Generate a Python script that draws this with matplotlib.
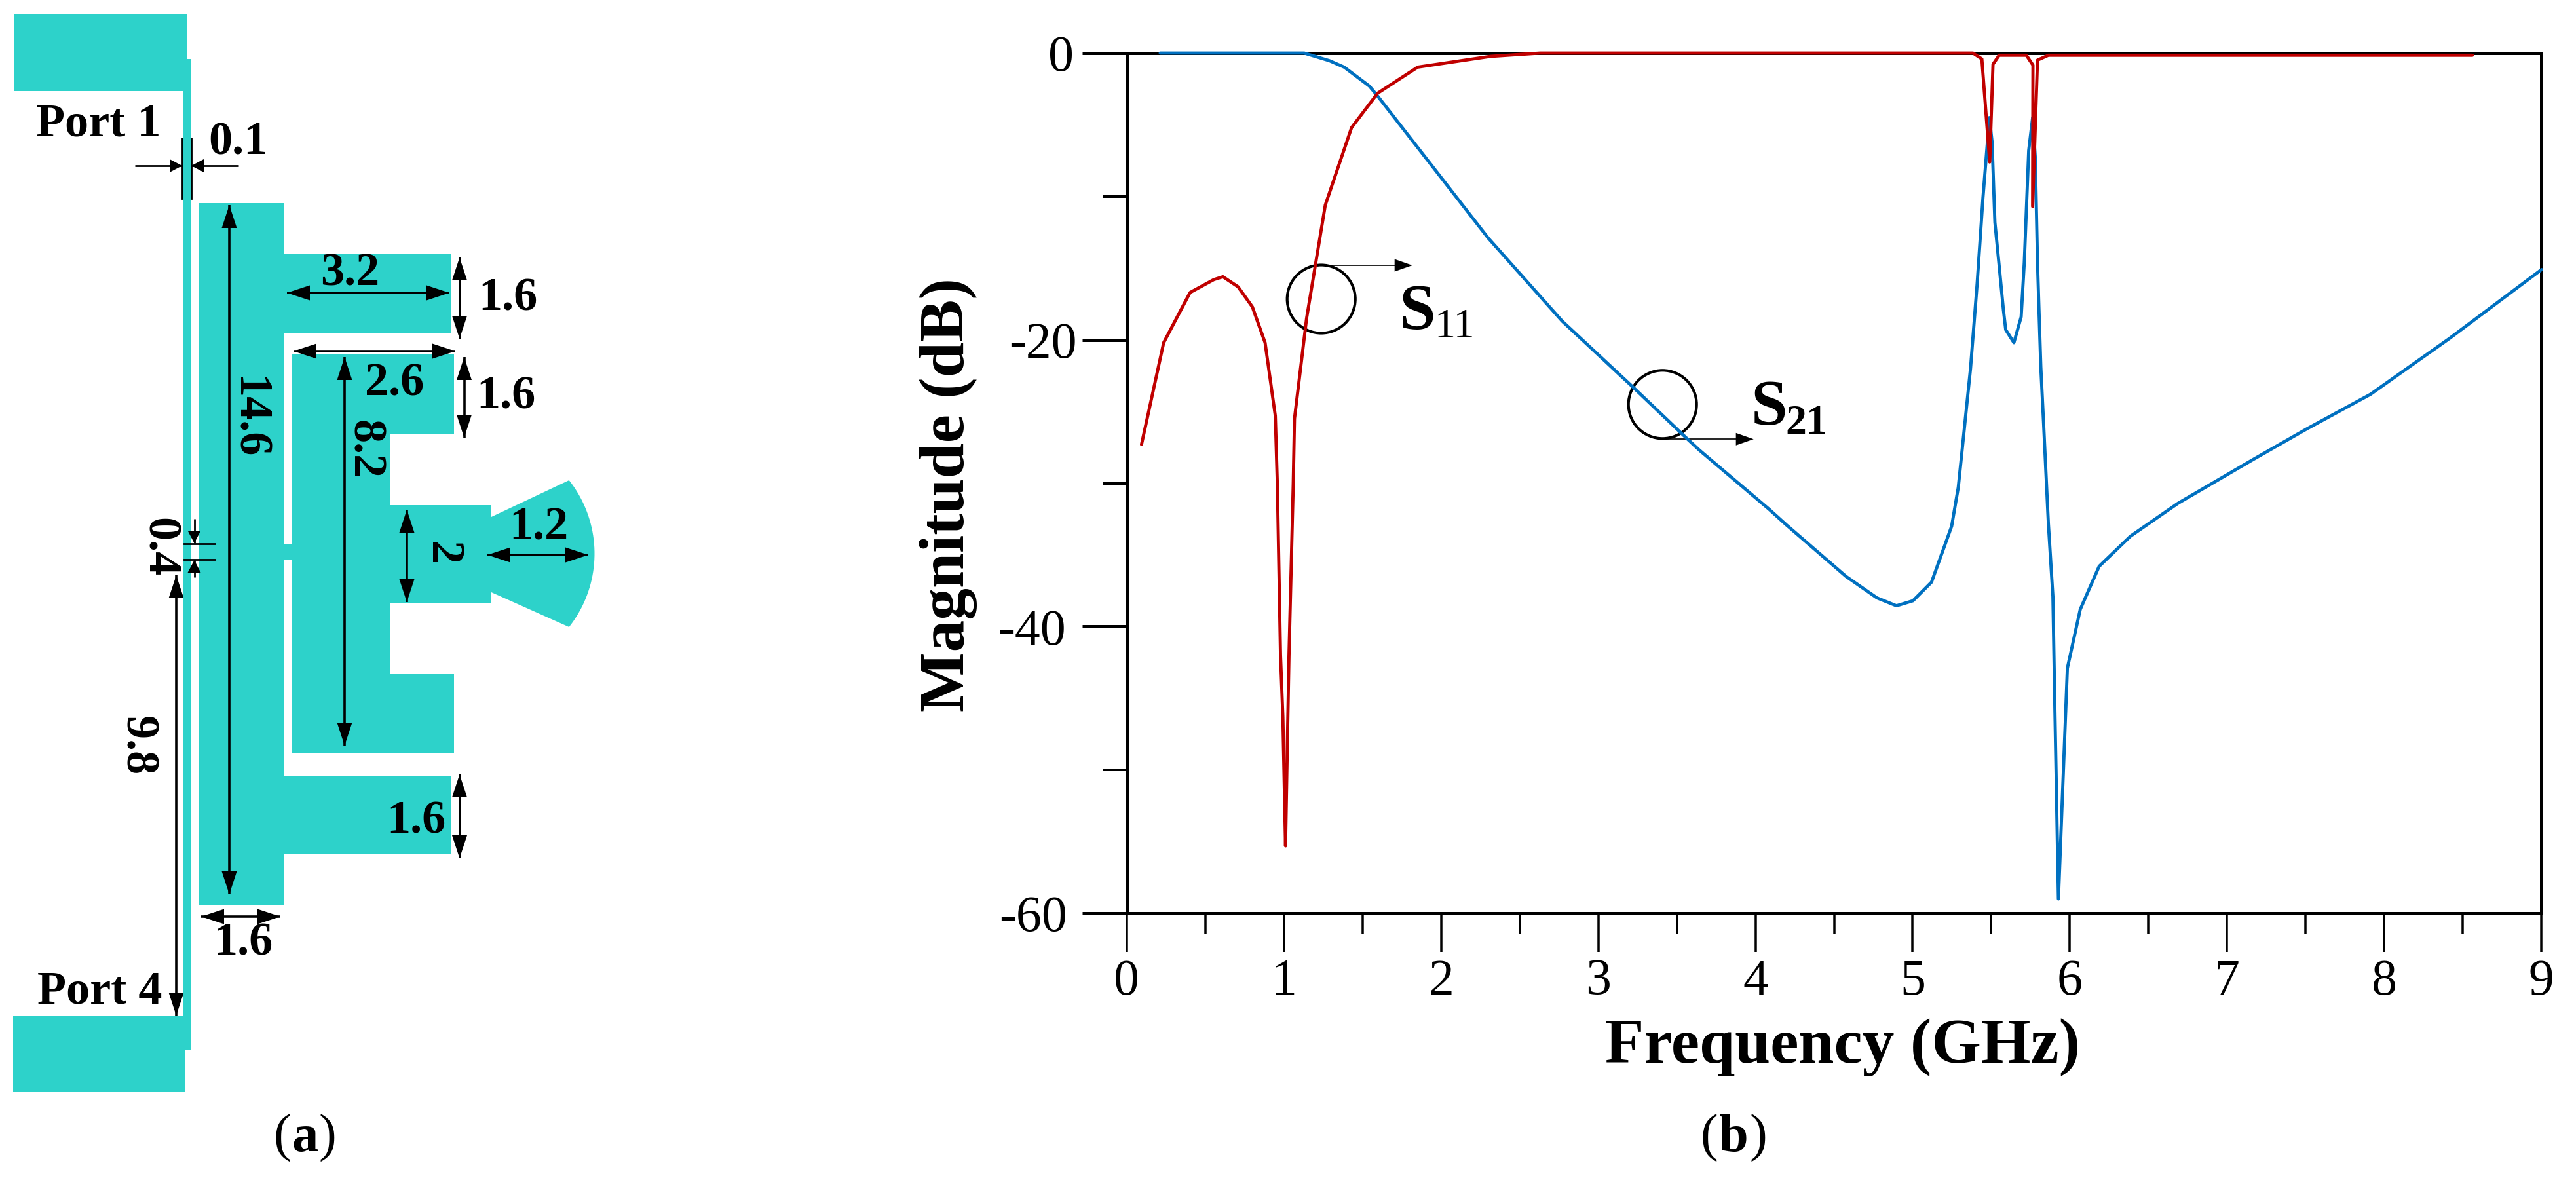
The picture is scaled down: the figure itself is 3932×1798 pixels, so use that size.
import numpy as np
import matplotlib
matplotlib.use("Agg")
import matplotlib.pyplot as plt
from matplotlib.patches import Rectangle, Polygon, Circle

plt.rcParams['font.family'] = ['Liberation Serif', 'DejaVu Serif']

W, H = 3932, 1798
TEAL = '#2DD2CA'
BLUE = '#0070C0'
RED = '#C00000'
PX = 0.72  # points per pixel at dpi 100

# S11 / S21
s11_f = [0.095, 0.236, 0.404, 0.555, 0.613, 0.709, 0.80, 0.881, 0.946, 0.959, 0.979, 0.994, 1.011,
         1.02, 1.033, 1.06, 1.068, 1.145, 1.264, 1.431, 1.597, 1.852, 2.314, 2.63, 5.384, 5.44,
         5.49, 5.511, 5.55, 5.723, 5.765, 5.763, 5.794, 5.863, 8.56]
s11_db = [-27.3, -20.2, -16.7, -15.8, -15.6, -16.3, -17.7, -20.2, -25.3, -30.1, -42.0, -46.3, -55.3,
          -49.8, -42.0, -30.1, -25.5, -18.5, -10.6, -5.2, -2.8, -0.98, -0.23, 0.0, 0.0, -0.41,
          -7.6, -0.78, -0.15, -0.15, -0.84, -10.7, -0.49, -0.15, -0.15]

s21_f = [0.214, 1.13, 1.29, 1.384, 1.544, 1.597, 2.30, 2.771, 2.918, 3.231, 3.556, 3.644, 4.085,
         4.196, 4.576, 4.773, 4.897, 5.002, 5.12, 5.248, 5.29, 5.368, 5.41, 5.447, 5.488, 5.505,
         5.523, 5.548, 5.577, 5.592, 5.644, 5.69, 5.71, 5.738, 5.763, 5.78, 5.794, 5.803, 5.815,
         5.833, 5.863, 5.892, 5.905, 5.927, 5.984, 6.066, 6.186, 6.385, 6.688, 7.173, 7.509,
         7.912, 8.415, 9.0]
s21_db = [0.0, 0.0, -0.53, -0.98, -2.3, -3.0, -12.9, -18.7, -20.2, -23.4, -26.8, -27.7, -31.8,
          -32.9, -36.5, -38.0, -38.55, -38.2, -36.9, -33.0, -30.3, -22.0, -16.1, -10.1, -4.5, -6.2,
          -11.8, -14.6, -17.9, -19.3, -20.2, -18.4, -14.6, -6.8, -4.5, -7.3, -14.6, -17.8, -21.9,
          -25.9, -32.8, -37.9, -46.0, -59.0, -42.9, -38.8, -35.8, -33.7, -31.4, -28.3, -26.2,
          -23.8, -19.9, -15.1]

x_major = [0, 1, 2, 3, 4, 5, 6, 7, 8, 9]
x_minor = [0.5, 1.5, 2.5, 3.5, 4.5, 5.5, 6.5, 7.5, 8.5]
y_major = [0, -20, -40, -60]
y_minor = [-10, -30, -50]
y_labels = ['0', '-20', '-40', '-60']
y_pads = [13, 8, 25, 23]

# panel (a) layout, left/top/right/bottom in pixels
rects = [(22, 22, 285, 139), (279, 90, 292, 1603), (20, 1550, 283, 1667), (304, 310, 433, 1382),
         (433, 388, 688, 509), (433, 1184, 688, 1304), (433, 830, 445, 855), (445, 541, 596, 1149),
         (596, 541, 693, 663), (596, 1029, 693, 1149), (596, 771, 750, 921)]

# dimension arrows: x0, y0, x1, y1
double_arrows = [(350, 313, 350, 1365), (438, 447, 686, 447), (701.5, 393, 701.5, 517),
                 (448, 536, 695, 536), (526, 545, 526, 1138), (708.5, 545, 708.5, 668),
                 (621, 778, 621, 919), (744, 847, 898, 847), (269, 878, 269, 1550),
                 (701.5, 1182, 701.5, 1310), (307, 1399, 428, 1399)]
single_arrows = [(206, 253, 278, 253), (364, 253, 292, 253), (296.5, 792, 296.5, 829), (296.5, 881, 296.5, 855)]
ext_lines = [(277.5, 211, 277.5, 303), (291.5, 211, 291.5, 303), (281, 829.5, 328, 829.5), (281, 854, 328, 854)]

# text, x centre, baseline
flat_labels = [('Port 1', 150, 207), ('0.1', 363, 236), ('3.2', 534, 435), ('1.6', 775, 473), ('2.6', 602, 603),
               ('1.6', 772, 624), ('1.2', 822, 824), ('1.6', 635, 1271), ('1.6', 371, 1458), ('Port 4', 152, 1532)]
# text, x centre, y centre
turned_labels = [('14.6', 378, 637), ('8.2', 556, 686), ('2', 674, 845), ('0.4', 242, 835), ('9.8', 209, 1138)]

# circle centre x, y, y of the leader line
callouts = [(2016.7, 456.5, 405), (2537.7, 617.3, 670.3)]


def arrow_head(ax, tip, tail, length, width):
    tip, tail = np.array(tip, float), np.array(tail, float)
    d = (tail - tip) / np.hypot(*(tail - tip))
    n = np.array([-d[1], d[0]])
    base = tip + d * length
    ax.add_patch(Polygon([tip, base + n * width / 2, base - n * width / 2], closed=True, fc='k', ec='none', zorder=4))


fig = plt.figure(figsize=(W / 100, H / 100), dpi=100, facecolor='white')

# full figure layer in pixel coordinates for the drawing and the callouts
bg = fig.add_axes([0, 0, 1, 1])
bg.set_xlim(0, W)
bg.set_ylim(H, 0)
bg.axis('off')

for x0, y0, x1, y1 in rects:
    bg.add_patch(Rectangle((x0, y0), x1 - x0, y1 - y0, fc=TEAL, ec='none'))

# radial stub
ang = np.radians(np.linspace(-38.3, 38.3, 40))
arc_x = 726.8 + 180.7 * np.cos(ang)
arc_y = 845 + 180.7 * np.sin(ang)
fan = [(750, 789)] + list(zip(arc_x, arc_y)) + [(750, 904)]
bg.add_patch(Polygon(fan, closed=True, fc=TEAL, ec='none'))

for x0, y0, x1, y1 in ext_lines:
    bg.plot([x0, x1], [y0, y1], color='k', lw=2, zorder=3)
for x0, y0, x1, y1 in double_arrows:
    bg.plot([x0, x1], [y0, y1], color='k', lw=2.6, zorder=3, solid_capstyle='butt')
    arrow_head(bg, (x0, y0), (x1, y1), 35, 23)
    arrow_head(bg, (x1, y1), (x0, y0), 35, 23)
for x0, y0, x1, y1 in single_arrows:
    bg.plot([x0, x1], [y0, y1], color='k', lw=2, zorder=3, solid_capstyle='butt')
    arrow_head(bg, (x1, y1), (x0, y0), 19, 20)

for txt, x, y in flat_labels:
    bg.text(x, y, txt, fontsize=52, fontweight='bold', ha='center', va='baseline', zorder=5)
for txt, x, y in turned_labels:
    bg.text(x, y, txt, fontsize=52, fontweight='bold', ha='center', va='center', rotation=-90, zorder=5)

for x, y, ly in callouts:
    bg.add_patch(Circle((x, y), 52, fc='none', ec='k', lw=3, zorder=2))
    bg.plot([x, x + 115], [ly, ly], color='k', lw=1.2, zorder=2)
    arrow_head(bg, (x + 139, ly), (x, ly), 27, 19)

bg.text(2136, 502, 'S', fontsize=72, fontweight='bold', va='baseline')
bg.text(2189, 515, '11', fontsize=46, va='baseline')
bg.text(2673, 648, 'S', fontsize=72, fontweight='bold', va='baseline')
bg.text(2725, 662, '21', fontsize=46, fontweight='bold', va='baseline')

for sub, cx, gap in [('a', 465.6, 21), ('b', 2646, 24)]:
    bg.text(cx - gap, 1757, '(', fontsize=58, ha='right', va='baseline')
    bg.text(cx, 1757, sub, fontsize=58, fontweight='bold', ha='center', va='baseline')
    bg.text(cx + gap, 1757, ')', fontsize=58, ha='left', va='baseline')

# panel (b)
ax = fig.add_axes([1719.6 / W, 1 - 1394 / H, (3879.4 - 1719.6) / W, (1394 - 81) / H], facecolor='none')
ax.plot(s21_f, s21_db, color=BLUE, lw=3.5, clip_on=False, zorder=3, solid_capstyle='round')
ax.plot(s11_f, s11_db, color=RED, lw=3.5, clip_on=False, zorder=3.1, solid_capstyle='round')
ax.set_xlim(0, 9)
ax.set_ylim(-60, 0)

ax.set_xticks(x_major)
ax.set_xticks(x_minor, minor=True)
ax.set_yticks(y_major, y_labels)
ax.set_yticks(y_minor, minor=True)
ax.tick_params(axis='x', which='major', length=59 * PX, width=3.5 * PX, pad=10 * PX, labelsize=56)
ax.tick_params(axis='x', which='minor', length=31 * PX, width=3.5 * PX)
ax.tick_params(axis='y', which='major', length=68 * PX, width=5 * PX, labelsize=56)
ax.tick_params(axis='y', which='minor', length=36 * PX, width=4 * PX)
for tick, pad in zip(ax.yaxis.get_major_ticks(), y_pads):
    tick.set_pad(pad * PX)
for sp in ax.spines.values():
    sp.set_linewidth(5 * PX)

ax.set_xlabel('Frequency (GHz)', fontsize=70, fontweight='bold', va='baseline')
ax.xaxis.set_label_coords(2812.5, 1622, transform=bg.transData)
ax.set_ylabel('Magnitude (dB)', fontsize=70, fontweight='bold', va='baseline')
ax.yaxis.set_label_coords(1470.7, 755.5, transform=bg.transData)

fig.savefig('out.png', dpi=100, facecolor='white')
